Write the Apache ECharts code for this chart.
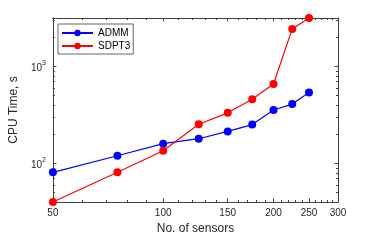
<!DOCTYPE html>
<html>
<head>
<meta charset="utf-8">
<script src="https://cdn.jsdelivr.net/npm/echarts@6/dist/echarts.min.js"></script>
<style>html,body{margin:0;padding:0;background:#fff}#c{width:374px;height:240px}</style>
</head>
<body>
<div id="c"></div>
<script>
const sensors = [50, 75, 100, 125, 150, 175, 200, 225, 250];
const admm = [81, 120, 160, 180, 214, 252, 356, 410, 540];
const sdpt3 = [40, 81, 135, 254, 333, 460, 660, 2445, 3170];
const xMajor = [50, 100, 150, 200, 250, 300];
const xMinor = [60, 70, 80, 90, 110, 120, 130, 140, 160, 170, 180, 190, 210, 220, 230, 240, 260, 270, 280, 290];
const yMajor = [100, 1000];
const yMinor = [50, 60, 70, 80, 90, 200, 300, 400, 500, 600, 700, 800, 900, 2000, 3000];

const AX = '#404040';
const FONT = 'Liberation Sans, Arial, sans-serif';
const xMin = 50, xMax = 300, yMin = 40, yMax = 3170;

function xAx(pos, ticks, len, labels, extra) {
  return Object.assign({
    type: 'log', logBase: 10, gridIndex: 0, position: pos, min: xMin, max: xMax,
    axisLine: { show: true, lineStyle: { color: AX, width: 1 } },
    axisTick: { show: true, inside: true, length: len, customValues: ticks, lineStyle: { color: AX, width: 1 } },
    axisLabel: labels ? { show: true, customValues: ticks, fontSize: 10, color: '#262626', fontFamily: FONT, margin: 6 } : { show: false },
    splitLine: { show: false }, minorTick: { show: false }, minorSplitLine: { show: false }
  }, extra || {});
}
function yAx(pos, ticks, len, labels, extra) {
  return Object.assign({
    type: 'log', logBase: 10, gridIndex: 0, position: pos, min: yMin, max: yMax,
    axisLine: { show: true, lineStyle: { color: AX, width: 1 } },
    axisTick: { show: true, inside: true, length: len, customValues: ticks, lineStyle: { color: AX, width: 1 } },
    axisLabel: labels ? {
      show: true, customValues: ticks, color: '#262626', fontFamily: FONT, margin: 7,
      formatter: function (v) { return '{b|10}{s|' + Math.round(Math.log10(v)) + '}'; },
      rich: {
        b: { fontSize: 10, fontFamily: FONT, color: '#262626', lineHeight: 14, verticalAlign: 'bottom' },
        s: { fontSize: 7, fontFamily: FONT, color: '#262626', lineHeight: 14, verticalAlign: 'top' }
      }
    } : { show: false },
    splitLine: { show: false }, minorTick: { show: false }, minorSplitLine: { show: false }
  }, extra || {});
}

const chart = echarts.init(document.getElementById('c'), null, { renderer: 'canvas' });
chart.setOption({
  animation: false,
  backgroundColor: '#fff',
  textStyle: { fontFamily: FONT },
  grid: { left: 48, right: 36, top: 18, bottom: 36, containLabel: false },
  legend: {
    left: 58, top: 24, orient: 'vertical',
    backgroundColor: '#fff', borderColor: AX, borderWidth: 0.8,
    padding: [4, 3, 3, 3], itemWidth: 31, itemHeight: 8, itemGap: 3,
    textStyle: { fontSize: 10, color: '#000', fontFamily: FONT },
    data: ['ADMM', 'SDPT3']
  },
  xAxis: [
    xAx('bottom', xMajor, 3.5, true, {
      name: 'No. of sensors', nameLocation: 'middle', nameGap: 21,
      nameTextStyle: { fontSize: 12, color: '#262626', fontFamily: FONT }
    }),
    xAx('top', xMajor, 3.5, false),
    xAx('top', xMinor, 2, false),
    xAx('bottom', xMinor, 2, false)
  ],
  yAxis: [
    yAx('left', yMajor, 3.5, true, {
      name: 'CPU Time, s', nameLocation: 'middle', nameGap: 25, nameRotate: 90,
      nameTextStyle: { fontSize: 12, color: '#262626', fontFamily: FONT }
    }),
    yAx('right', yMajor, 3.5, false),
    yAx('right', yMinor, 2, false),
    yAx('left', yMinor, 2, false)
  ],
  series: [
    {
      name: 'ADMM', type: 'line', xAxisIndex: 0, yAxisIndex: 0,
      data: sensors.map((x, i) => [x, admm[i]]),
      symbol: 'circle', symbolSize: 8, color: '#0000ff',
      lineStyle: { color: '#0000ff', width: 1.2 }, itemStyle: { color: '#0000ff' }, z: 3
    },
    {
      name: 'SDPT3', type: 'line', xAxisIndex: 0, yAxisIndex: 0,
      data: sensors.map((x, i) => [x, sdpt3[i]]),
      symbol: 'circle', symbolSize: 8, color: '#ff0000',
      lineStyle: { color: '#ff0000', width: 1.2 }, itemStyle: { color: '#ff0000' }, z: 3
    }
  ]
});
</script>
</body>
</html>
